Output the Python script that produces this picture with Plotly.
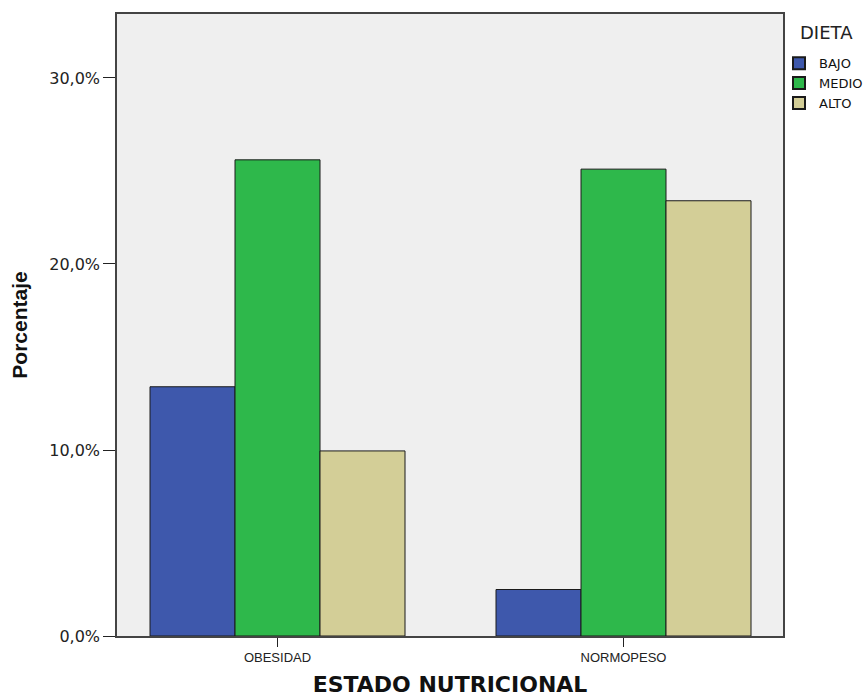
import plotly.graph_objects as go

categories = ["OBESIDAD", "NORMOPESO"]
series_names = ["BAJO", "MEDIO", "ALTO"]
bajo = [13.4, 2.5]
medio = [25.6, 25.1]
alto = [9.95, 23.4]
colors = ["#3e58ac", "#2eb84b", "#d3ce97"]
y_ticks = [0, 10, 20, 30]

fig = go.Figure()
for name, vals, col in zip(series_names, [bajo, medio, alto], colors):
    fig.add_trace(go.Bar(
        x=categories, y=vals, name=name,
        marker=dict(color=col, line=dict(color="#1a1a1a", width=1)),
    ))

fig.update_layout(
    width=864, height=700,
    barmode="group", bargap=0.263, bargroupgap=0,
    plot_bgcolor="#efefef", paper_bgcolor="white",
    margin=dict(l=117, r=81, t=14, b=64, autoexpand=False),
    separators=",.",
    font=dict(family="DejaVu Sans, Verdana, sans-serif", color="#222"),
    legend=dict(
        x=0.994, y=0.945, xanchor="left", yanchor="top",
        font=dict(size=13, color="#111", family="DejaVu Sans, Verdana, sans-serif"),
        itemsizing="constant", tracegroupgap=0,
        bgcolor="rgba(0,0,0,0)",
    ),
    showlegend=True,
    annotations=[dict(
        text="DIETA", x=1.0225, y=0.9695, xref="paper", yref="paper",
        xanchor="left", yanchor="middle", showarrow=False,
        font=dict(size=18, color="#222", family="DejaVu Sans, Verdana, sans-serif"),
    )],
)
fig.update_xaxes(
    automargin=False, range=[-0.4639, 1.461],
    showline=True, mirror=True, linecolor="#444", linewidth=1.5,
    ticks="outside", ticklen=9, tickcolor="#222",
    tickfont=dict(size=13, family="Liberation Sans Narrow, Arial Narrow, Liberation Sans, sans-serif"),
    title=dict(text="<b>ESTADO NUTRICIONAL</b>", font=dict(size=22, family="DejaVu Sans, Verdana, sans-serif", color="#111"), standoff=12),
)
fig.update_yaxes(
    automargin=False,
    range=[0, 33.44], tickvals=y_ticks, ticktext=[f"{v},0%" for v in y_ticks],
    showgrid=False, zeroline=False,
    showline=True, mirror=True, linecolor="#444", linewidth=1.5,
    ticks="outside", ticklen=12, tickcolor="#222",
    tickfont=dict(size=16),
    title=dict(text="<b>Porcentaje</b>", font=dict(size=21, family="Liberation Sans, Arial, sans-serif", color="#111"), standoff=16),
)
fig.write_html(
    "out.html",
    config={"displayModeBar": False},
    post_script="document.body.style.margin='0';document.body.style.overflow='hidden';",
)
